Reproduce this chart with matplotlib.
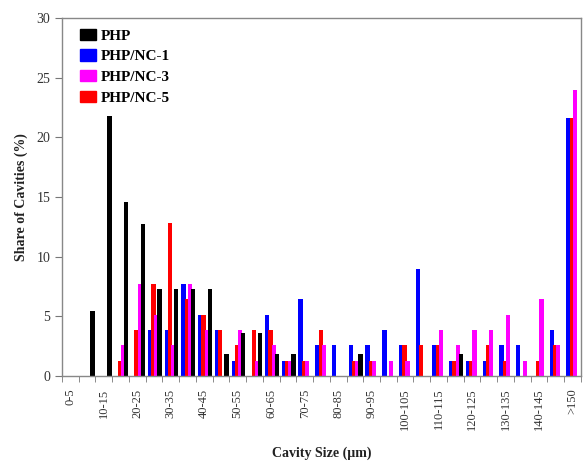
import numpy as np
import matplotlib as mpl
mpl.use('Agg')
import matplotlib.pyplot as plt
from matplotlib.patches import Rectangle

# cavity size classes (um)
sizes = ["%d-%d" % (a, a + 5) for a in range(0, 150, 5)] + [">150"]

# share of cavities (%) per class
php = [0, 5.45, 21.82, 14.55, 12.73, 7.27, 7.27, 7.27, 7.27, 1.82,
       3.64, 3.64, 1.82, 1.82, 0, 0, 0, 1.82, 0, 0,
       0, 0, 0, 1.82, 0, 0, 0, 0, 0, 0, 0]
nc1 = [0, 0, 0, 0, 0, 3.85, 3.85, 7.69, 5.13, 3.85,
       1.28, 0, 5.13, 1.28, 6.41, 2.56, 2.56, 2.56, 2.56, 3.85,
       2.56, 8.97, 2.56, 1.28, 1.28, 1.28, 2.56, 2.56, 0, 3.85, 21.6]
nc3 = [0, 0, 0, 2.56, 7.69, 5.13, 2.56, 7.69, 3.85, 0,
       3.85, 1.28, 2.56, 1.28, 1.28, 2.56, 0, 1.28, 1.28, 1.28,
       1.28, 0, 3.85, 2.56, 3.85, 3.85, 5.13, 1.28, 6.41, 2.56, 24.0]
nc5 = [0, 0, 0, 1.28, 3.85, 7.69, 12.82, 6.41, 5.13, 3.85,
       2.56, 3.85, 3.85, 1.28, 1.28, 3.85, 0, 1.28, 1.28, 0,
       2.56, 2.56, 2.56, 1.28, 1.28, 2.56, 1.28, 0, 1.28, 2.56, 21.6]

serif = ['Liberation Serif', 'DejaVu Serif']

def main():
	fig = plt.figure(figsize=(5.83, 4.61), dpi=100)
	ax = fig.add_axes([0.1063, 0.1844, 0.890, 0.7766])

	x = np.arange(len(sizes))
	w = 0.26
	# left-to-right order in the picture: NC-1, NC-5, NC-3, PHP
	ax.bar(x - 0.24, nc1, w, color='#0000ff')
	ax.bar(x - 0.04, nc5, w, color='#ff0000')
	ax.bar(x + 0.15, nc3, w, color='#ff00ff')
	ax.bar(x + 0.33, php, w, color='black')

	ax.set_xlim(-0.5, len(sizes) - 0.5)
	ax.set_ylim(0, 30)
	ax.set_yticks(range(0, 31, 5))

	lab_idx = list(range(0, 30, 2)) + [30]
	ax.set_xticks(lab_idx)
	ax.set_xticklabels([sizes[i] for i in lab_idx], rotation=90,
		family=serif, fontsize=9, color='#333333')
	ax.set_xticks(np.arange(-0.5, len(sizes), 1), minor=True)
	ax.tick_params(axis='x', which='major', length=0, pad=9)
	ax.tick_params(axis='x', which='minor', length=4, direction='out', color='#777777')
	ax.tick_params(axis='y', length=5, direction='out', color='#777777',
		labelsize=10, labelcolor='#333333')
	for t in ax.get_yticklabels():
		t.set_family(serif)

	for s in ax.spines.values():
		s.set_color('#888888')
		s.set_linewidth(1.0)

	ax.set_xlabel("Cavity Size (\u00b5m)", family=serif, fontsize=10,
		fontweight='bold', color='#222222', labelpad=12)
	ax.set_ylabel("Share of Cavities (%)", family=serif, fontsize=10,
		fontweight='bold', color='#222222', labelpad=6)

	handles = [Rectangle((0, 0), 1, 1, color=c) for c in
		['black', '#0000ff', '#ff00ff', '#ff0000']]
	names = ["PHP", "PHP/NC-1", "PHP/NC-3", "PHP/NC-5"]
	ax.legend(handles, names, loc='upper left', frameon=False,
		prop={'family': serif, 'weight': 'bold', 'size': 11},
		handlelength=1.0, handleheight=0.75, handletextpad=0.3,
		labelspacing=0.45, borderaxespad=0.3, bbox_to_anchor=(0.015, 1.0))

	plt.savefig("out.png", dpi=100)

if __name__ == '__main__':
	main()
